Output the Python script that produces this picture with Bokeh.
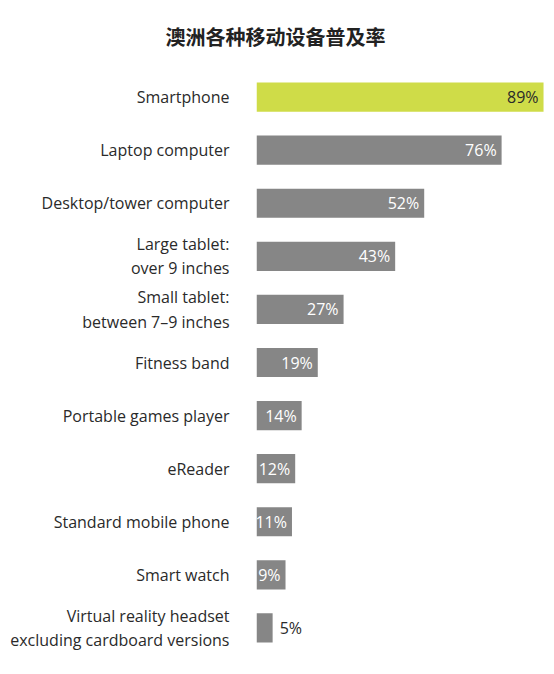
from bokeh.plotting import figure
from bokeh.models import ColumnDataSource, FactorRange
from bokeh.core.properties import value
from bokeh.embed import file_html
from bokeh.resources import INLINE

devices = [
    "Smartphone",
    "Laptop computer",
    "Desktop/tower computer",
    "Large tablet:\nover 9 inches",
    "Small tablet:\nbetween 7–9 inches",
    "Fitness band",
    "Portable games player",
    "eReader",
    "Standard mobile phone",
    "Smart watch",
    "Virtual reality headset\nexcluding cardboard versions",
]
share = [89, 76, 52, 43, 27, 19, 14, 12, 11, 9, 5]

LIME = "#cfdc48"
GREY = "#868686"

colors = [LIME if i == 0 else GREY for i in range(len(devices))]
labels = [f"{v}%" for v in share]
text_colors = ["#2a2a2a" if i == 0 else "white" for i in range(len(devices))]

inside = [i for i, v in enumerate(share) if v >= 8]
outside = [i for i, v in enumerate(share) if v < 8]

src_in = ColumnDataSource(dict(
    y=[devices[i] for i in inside],
    x=[share[i] for i in inside],
    t=[labels[i] for i in inside],
    c=[text_colors[i] for i in inside],
))
src_out = ColumnDataSource(dict(
    y=[devices[i] for i in outside],
    x=[share[i] for i in outside],
    t=[labels[i] for i in outside],
))

p = figure(
    width=554, height=674,
    y_range=FactorRange(factors=devices[::-1], range_padding=0),
    x_range=(0, 92.4),
    output_backend="svg", toolbar_location=None,
    min_border_left=256, min_border_right=0,
    min_border_top=70, min_border_bottom=20,
    title="澳洲各种移动设备普及率",
)

p.hbar(y=devices, right=share, left=0, height=0.55, color=colors, line_color=None)

p.text(x="x", y="y", text="t", source=src_in, text_color="c",
       text_align="right", text_baseline="middle", x_offset=-5,
       text_font=value("Open Sans"), text_font_size="16px")
p.text(x="x", y="y", text="t", source=src_out, text_color="#2a2a2a",
       text_align="left", text_baseline="middle", x_offset=7,
       text_font=value("Open Sans"), text_font_size="16px")

p.title.text_font = "Noto Sans CJK SC"
p.title.text_font_size = "20px"
p.title.text_font_style = "bold"
p.title.text_color = "#222222"
p.title.align = "left"
p.title.offset = -91
p.title.standoff = 36
p.title.vertical_align = "top"

p.xaxis.visible = False
p.yaxis.axis_line_color = None
p.yaxis.major_tick_line_color = None
p.yaxis.minor_tick_line_color = None
p.yaxis.major_tick_out = 0
p.yaxis.major_tick_in = 0
p.yaxis.major_label_standoff = 27
p.yaxis.major_label_text_font = "Open Sans"
p.yaxis.major_label_text_font_size = "16px"
p.yaxis.major_label_text_line_height = 1.1
p.yaxis.major_label_text_color = "#2a2a2a"

p.grid.visible = False
p.outline_line_color = None

open("out.html", "w").write(file_html(p, INLINE))
